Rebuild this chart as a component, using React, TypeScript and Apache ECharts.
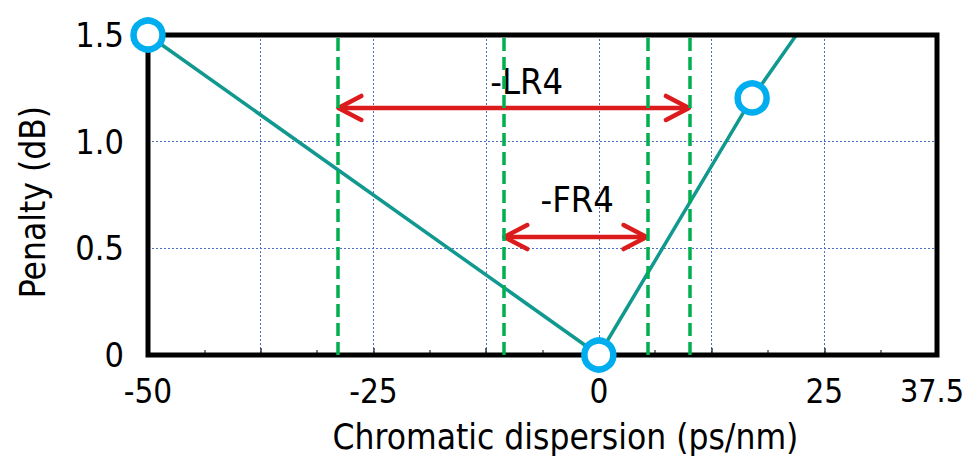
import React, { useEffect, useRef } from "react";
import * as echarts from "echarts";

// Measured penalty curve (teal line)
const curveX = [-50, 0, 17.0, 21.9];
const curveY = [1.5, 0, 1.205, 1.5];
// Measured points (hollow circles)
const markerX = [-50, 0, 17.0];
const markerY = [1.5, 0, 1.205];
// Dispersion limits (green dashed)
const limitX = [-29.0, -10.6, 5.4, 10.1];
// Arrow ranges [from, to, level]
const arrowNames = ["-LR4", "-FR4"];
const arrowFrom = [-29.0, -10.6];
const arrowTo = [10.1, 5.4];
const arrowLevel = [1.158, 0.553];
const labelX = [-8.0, -2.4];
const labelY = [1.28, 0.73];
// Axis tick labels
const xTickValues = [-50, -25, 0, 25, 37.5];
const xTickLabels = ["-50", "-25", "0", "25", "37.5"];
const yTickLabels = ["0", "0.5", "1.0", "1.5"];

const FONT = "'Liberation Sans Narrow', 'DejaVu Sans Condensed', Roboto, sans-serif";

export default function App() {
  const ref = useRef<HTMLDivElement>(null);
  useEffect(() => {
    if (!ref.current) return;
    const chart = echarts.init(ref.current, undefined, { renderer: "svg" });
    const option: any = {
      animation: false,
      backgroundColor: "#ffffff",
      grid: {
        left: 148,
        right: 32,
        top: 35,
        bottom: 105,
        outerBoundsMode: "none",
        containLabel: false,
        show: true,
        borderColor: "#000",
        borderWidth: 5,
        backgroundColor: "transparent",
        z: 5,
      },
      xAxis: {
        type: "value",
        min: -50,
        max: 37.5,
        interval: 12.5,
        name: "Chromatic dispersion (ps/nm)",
        nameLocation: "middle",
        nameGap: 64,
        nameTextStyle: { fontFamily: FONT, fontSize: 35, color: "#000", padding: [0, 0, 0, 46] },
        axisLine: { show: false },
        axisTick: { show: true, inside: true, length: 7, lineStyle: { color: "#333", width: 1.5 } },
        minorTick: { show: true, splitNumber: 2, length: 5, lineStyle: { color: "#555", width: 1.5 } },
        axisLabel: {
          fontFamily: FONT,
          fontSize: 33,
          color: "#000",
          margin: 20,
          showMaxLabel: true,
          rich: { m: { fontFamily: FONT, fontSize: 32, color: "#000", padding: [0, 10, 0, 0] } },
          formatter: (v: number) => {
            const i = xTickValues.findIndex((t) => Math.abs(t - v) < 1e-6);
            if (i < 0) return "";
            return i === xTickValues.length - 1 ? `{m|${xTickLabels[i]}}` : xTickLabels[i];
          },
        },
        splitLine: { show: true, lineStyle: { color: "#4a6fc2", width: 1, type: [2, 2] } },
      },
      yAxis: {
        type: "value",
        min: 0,
        max: 1.5,
        interval: 0.5,
        name: "Penalty (dB)",
        nameLocation: "middle",
        nameGap: 98,
        nameTextStyle: { fontFamily: FONT, fontSize: 35, color: "#000", padding: [0, 14, 0, 0] },
        axisLine: { show: false },
        axisTick: { show: false },
        axisLabel: {
          fontFamily: FONT,
          fontSize: 34,
          color: "#000",
          margin: 24,
          formatter: (v: number) => yTickLabels[Math.round(v / 0.5)] ?? "",
        },
        splitLine: { show: true, lineStyle: { color: "#4a6fc2", width: 1, type: [2, 2] } },
      },
      series: [
        {
          type: "line",
          data: curveX.map((x, i) => [x, curveY[i]]),
          showSymbol: false,
          symbol: "none",
          lineStyle: { color: "#11998f", width: 3.5 },
          z: 3,
          markLine: {
            silent: true,
            symbol: "none",
            label: { show: false },
            lineStyle: { color: "#00b050", width: 3.5, type: [13, 6] },
            data: limitX.map((x) => ({ xAxis: x })),
          },
        },
        {
          type: "custom",
          z: 4,
          renderItem: (params: any, api: any) => {
            const x1 = api.value(0);
            const x2 = api.value(1);
            const y = api.value(2);
            const p1 = api.coord([x1, y]);
            const p2 = api.coord([x2, y]);
            const style = { stroke: "#dc1c1c", lineWidth: 4.5, fill: "none", lineCap: "round", lineJoin: "round" };
            const ax = 24;
            const ay = 12;
            return {
              type: "group",
              children: [
                { type: "line", shape: { x1: p1[0] + 2, y1: p1[1], x2: p2[0] - 2, y2: p2[1] }, style },
                {
                  type: "polyline",
                  shape: { points: [[p1[0] + ax, p1[1] - ay], [p1[0] + 1, p1[1]], [p1[0] + ax, p1[1] + ay]] },
                  style,
                },
                {
                  type: "polyline",
                  shape: { points: [[p2[0] - ax, p2[1] - ay], [p2[0] - 1, p2[1]], [p2[0] - ax, p2[1] + ay]] },
                  style,
                },
              ],
            };
          },
          data: arrowFrom.map((f, i) => [f, arrowTo[i], arrowLevel[i]]),
        },
        {
          type: "scatter",
          symbolSize: 0,
          z: 4,
          itemStyle: { opacity: 1 },
          label: {
            show: true,
            position: "inside",
            formatter: "{b}",
            fontFamily: FONT,
            fontSize: 36,
            color: "#000",
          },
          data: arrowNames.map((n, i) => ({ name: n, value: [labelX[i], labelY[i]] })),
        },
        {
          type: "scatter",
          clip: false,
          symbol: "circle",
          symbolSize: 29,
          z: 10,
          itemStyle: { color: "#ffffff", borderColor: "#00aeef", borderWidth: 6.5, opacity: 1 },
          data: markerX.map((x, i) => [x, markerY[i]]),
        },
      ],
    };
    chart.setOption(option);
    return () => chart.dispose();
  }, []);
  return <div ref={ref} style={{ position: "fixed", left: 0, top: 0, width: 969, height: 460 }} />;
}
